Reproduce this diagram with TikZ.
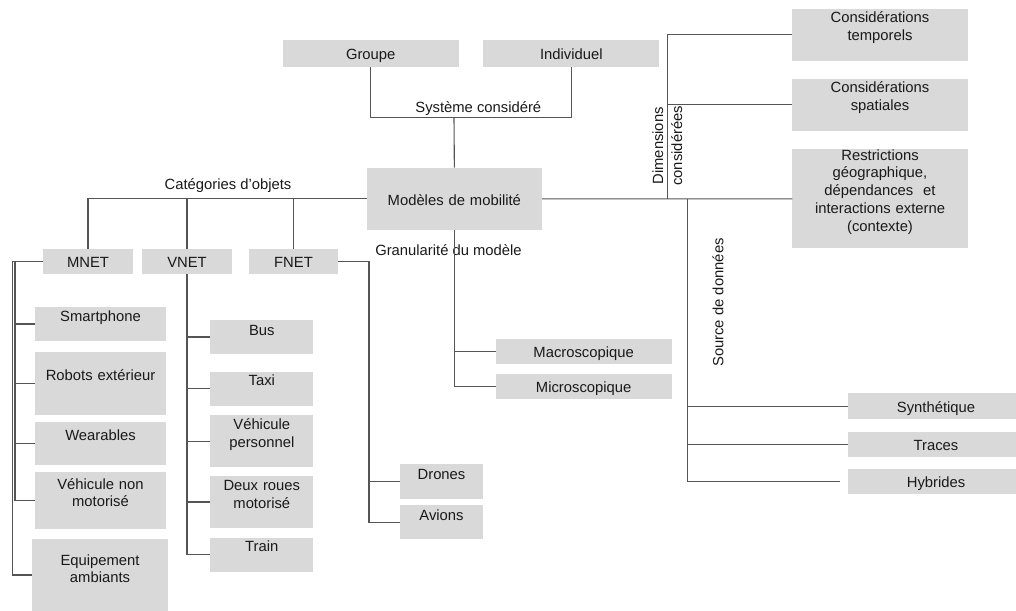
\documentclass[tikz,border=0pt]{standalone}
\usepackage{fontspec}
\usepackage{graphicx}
\setmainfont{Liberation Sans}
\definecolor{boxgray}{RGB}{217,217,217}
\definecolor{linegray}{RGB}{85,85,85}
\definecolor{inkc}{RGB}{25,25,25}

% box with its text set from the top: name, x1, y1, x2, y2, baseline drop, text
\newcommand\tbox[7]{%
  \pgfmathsetmacro\tbw{#4-#2}\pgfmathsetmacro\tbh{#5-#3}%
  \node[box, minimum width=\tbw pt, minimum height=\tbh pt] (#1) at ({(#2+#4)/2},{(#3+#5)/2}) {};%
  \node[lbl, text width=\tbw pt, anchor=base] (#1-txt) at ([yshift=-#6pt]#1.north) {#7};}

\begin{document}
\begin{tikzpicture}[x=1pt,y=-1pt,
  box/.style={fill=boxgray, draw=none, inner sep=0pt, outer sep=0pt},
  lbl/.style={inner sep=0pt, align=center, text=inkc, font=\fontsize{14.8}{17.8}\selectfont},
  txt/.style={inner sep=0pt, text=inkc, font=\fontsize{14.8}{17.8}\selectfont},
  conn/.style={draw=linegray, line width=1.1pt}]
\useasboundingbox (0,0) rectangle (1016,610);

% ---- boxes ----
\tbox{grp}{282.7}{40}{458.7}{67.3}{19.3}{Groupe}
\tbox{ind}{483.3}{40}{659.3}{67.3}{19.3}{Individuel}
\tbox{mod}{366.7}{167.7}{542}{230}{37.3}{Modèles de mobilité}
\tbox{tempo}{792.3}{9}{967.7}{60.7}{14}{Considérations\\temporels}
\tbox{spat}{792.3}{79}{967.7}{130.7}{13.3}{Considérations\\spatiales}
\tbox{restr}{792.3}{149.3}{967.7}{248.3}{10.7}{Restrictions\\géographique,\\dépendances~~et\\interactions externe\\(contexte)}
\tbox{mnet}{43}{249}{133}{274}{18.3}{MNET}
\tbox{vnet}{142}{249}{232}{274}{18.3}{VNET}
\tbox{fnet}{249}{249}{338}{274}{18.3}{FNET}
\tbox{smart}{35}{307}{166}{341}{14.7}{Smartphone}
\tbox{robot}{35}{352}{166}{415}{28.7}{Robots extérieur}
\tbox{wear}{35}{422}{166}{465}{18.7}{Wearables}
\tbox{vnm}{35}{472}{166}{529}{17}{Véhicule non\\motorisé}
\tbox{equip}{32.3}{539}{167.7}{611}{26}{Equipement\\ambiants}
\tbox{bus}{210.3}{320}{313.3}{354}{15}{Bus}
\tbox{taxi}{210.3}{371.7}{313.3}{405.7}{14}{Taxi}
\tbox{vperso}{210.3}{415.3}{313.3}{467}{14}{Véhicule\\personnel}
\tbox{deux}{210.3}{476}{313.3}{528}{14.7}{Deux roues\\motorisé}
\tbox{train}{210.3}{537.7}{313.3}{571.7}{14}{Train}
\tbox{dro}{399.7}{464.3}{483.3}{498.7}{14.7}{Drones}
\tbox{avi}{399.7}{505}{483.3}{539.3}{15}{Avions}
\tbox{macro}{495.7}{339}{671.6}{364}{18.7}{Macroscopique}
\tbox{micro}{495.7}{374}{671.6}{399}{18.3}{Microscopique}
\tbox{synth}{848.3}{393.3}{1023.7}{419}{19}{Synthétique}
\tbox{traces}{848.3}{431.7}{1023.7}{456.7}{18.3}{Traces}
\tbox{hyb}{848.3}{469.3}{1023.7}{494.3}{18.3}{Hybrides}

% ---- branch labels ----
\node[txt, anchor=base] (sys) at (478.3,112.7) {Système considéré};
\node[txt, anchor=base] (cat) at (228,189.3) {Catégories d’objets};
\node[txt, anchor=base] (gran) at (448.5,255) {Granularité du modèle};
\node[txt, rotate=90, align=center, anchor=center] (dims) at (667.4,145.8) {Dimensions\\[1.2pt]considérées};
\node[txt, rotate=90, anchor=base] (src) at (723.3,302.5) {Source de données};

% ---- junctions ----
\coordinate (sysbar) at (454,117.3);
\coordinate (dimj) at (667.3,198.85);
\coordinate (srcj) at (687.3,198.85);
\coordinate (fbar) at (369,261.5);
\coordinate (mout) at (12.3,261.5);
\coordinate (min) at (15,261.5);

% ---- connectors ----
% system considered
\draw[conn] (grp.south) |- (sysbar) -| (ind.south);
\draw[conn] (sysbar) -- (mod.north);
% object categories
\draw[conn] (mod.west) -| (mnet.north);
\draw[conn] (vnet.north) |- (mod.west);
\draw[conn] (fnet.north) |- (mod.west);
% dimensions and data sources
\draw[conn] (mod.east) -- (restr.west);
\draw[conn] (tempo.west) -| (dimj);
\draw[conn] (spat.west) -- (spat.west -| dimj);
\draw[conn, shorten >=8pt] (srcj) |- (hyb.west);
\draw[conn] (synth.west) -- (synth.west -| srcj);
\draw[conn] (traces.west) -- (traces.west -| srcj);
% granularity
\draw[conn] (mod.south) |- (micro.west);
\draw[conn] (macro.west) -- (macro.west -| mod.south);
% FNET
\draw[conn] (fnet.east) -- (fbar) |- (avi.west);
\draw[conn] (dro.west) -- (dro.west -| fbar);
% VNET
\draw[conn] (vnet.south) |- (train.west);
\foreach \n in {bus,taxi,vperso,deux}
  \draw[conn] (\n.west) -- (\n.west -| vnet.south);
% MNET
\draw[conn] (mnet.west) -- (mout) |- (equip.west);
\draw[conn] (min) |- (vnm.west);
\foreach \n in {smart,robot,wear}
  \draw[conn] (\n.west) -- (\n.west -| min);
\end{tikzpicture}
\end{document}
